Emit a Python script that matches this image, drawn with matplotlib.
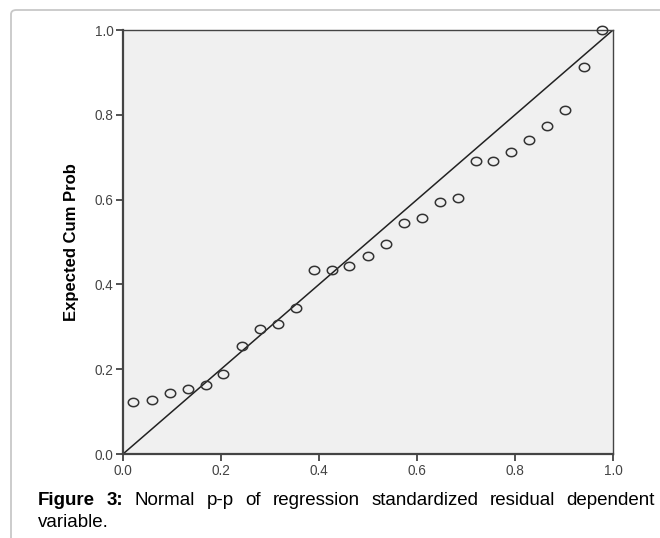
import numpy as np
import matplotlib.pyplot as plt
from matplotlib.patches import FancyBboxPatch
from matplotlib.path import Path

plt.rcParams['font.family'] = ['Liberation Sans', 'DejaVu Sans']

observed = [0.020, 0.059, 0.096, 0.133, 0.169, 0.204, 0.243, 0.280, 0.316,
            0.353, 0.390, 0.427, 0.461, 0.500, 0.537, 0.573, 0.610, 0.647,
            0.684, 0.720, 0.755, 0.792, 0.829, 0.865, 0.902, 0.941, 0.978]
expected = [0.123, 0.127, 0.144, 0.153, 0.163, 0.189, 0.255, 0.295, 0.307,
            0.344, 0.434, 0.434, 0.443, 0.467, 0.495, 0.545, 0.557, 0.594,
            0.604, 0.691, 0.691, 0.712, 0.741, 0.774, 0.811, 0.913, 1.000]
ticks = [0.0, 0.2, 0.4, 0.6, 0.8, 1.0]

caption_bold = "Figure 3:"
caption_line1 = "Normal p-p of regression standardized residual dependent"
caption_line2 = "variable."

W, H = 660, 538
fig = plt.figure(figsize=(W / 100, H / 100), dpi=100)

# card frame behind everything
card = FancyBboxPatch((11 / W, -0.1), 1.2, (H - 10) / H + 0.1,
                      boxstyle="round,pad=0,rounding_size=0.008",
                      transform=fig.transFigure, facecolor='white',
                      edgecolor='#c8c8c8', linewidth=1.3, zorder=-10)
fig.patches.append(card)

# slightly flattened circle, like the SPSS markers
t = np.linspace(0, 2 * np.pi, 60)
oval = Path(np.column_stack([np.cos(t), 0.8 * np.sin(t)]), closed=True)

ax = fig.add_axes([123 / W, 1 - 454 / H, 490 / W, 424 / H])
ax.set_zorder(5)
ax.set_facecolor('#f0f0f0')
ax.set_xlim(0, 1)
ax.set_ylim(0, 1)
ax.plot([0, 1], [0, 1], color='#222222', linewidth=1.1, zorder=2)
ax.plot(observed, expected, linestyle='none', marker=oval, markersize=7.5,
        markerfacecolor='none', markeredgecolor='#333333',
        markeredgewidth=1.1, zorder=3, clip_on=False)

ax.set_xticks(ticks)
ax.set_yticks(ticks)
ax.set_xticklabels([f"{v:.1f}" for v in ticks])
ax.set_yticklabels([f"{v:.1f}" for v in ticks])
ax.tick_params(direction='out', length=5, width=1.3, color='#444444',
               labelsize=9.8, labelcolor='#444444', pad=2)
for s in ax.spines.values():
    s.set_color('#444444')
    s.set_linewidth(1.6)
ax.spines['top'].set_linewidth(1.0)
ax.spines['right'].set_linewidth(1.0)
ax.set_ylabel("Expected Cum Prob", fontsize=12, fontweight='bold')
ax.yaxis.set_label_coords(79 / W, 1 - 242 / H, transform=fig.transFigure)

# justified caption, first line
renderer = fig.canvas.get_renderer()
words = [(w, 'bold') for w in caption_bold.split()] + \
        [(w, 'normal') for w in caption_line1.split()]
x_left, x_right = 38 / W, 655 / W
y1 = 1 - 505 / H
txts = [fig.text(0, y1, w, fontsize=13.5, fontweight=fw, va='baseline')
        for w, fw in words]
widths = [tx.get_window_extent(renderer).width / W for tx in txts]
gap = (x_right - x_left - sum(widths)) / (len(words) - 1)
x = x_left
for tx, wd in zip(txts, widths):
    tx.set_x(x)
    x += wd + gap
fig.text(x_left, 1 - 527 / H, caption_line2, fontsize=13.5, va='baseline')

fig.savefig("out.png", dpi=100)
